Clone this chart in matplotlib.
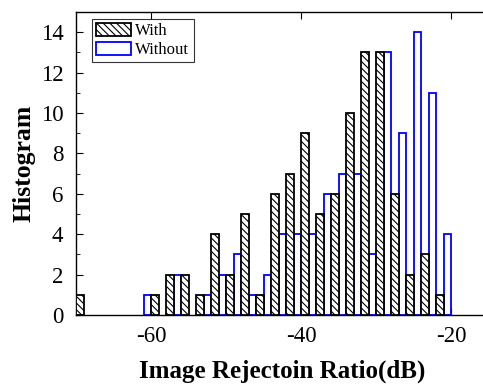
import numpy as np
import matplotlib
matplotlib.use("Agg")
import matplotlib.pyplot as plt
from matplotlib.ticker import MultipleLocator
from matplotlib.patches import Patch

plt.rcParams['font.family'] = ['Liberation Serif', 'DejaVu Serif']
plt.rcParams['hatch.linewidth'] = 0.8
plt.rcParams['axes.unicode_minus'] = False

# bin left edges (dB), bin width 2 dB
bin_edges = list(range(-70, -18, 2))
with_counts = [1, 0, 0, 0, 0, 1, 2, 2, 1, 4, 2, 5, 1, 6, 7, 9, 5, 6, 10, 13, 13, 6, 2, 3, 1]
without_counts = [0, 0, 0, 0, 1, 0, 2, 0, 1, 2, 3, 1, 2, 4, 4, 4, 6, 7, 7, 3, 13, 9, 14, 11, 4]
series_labels = ["With", "Without"]
xticks = [-60, -40, -20]
yticks = [0, 2, 4, 6, 8, 10, 12, 14]

fig = plt.figure(figsize=(4.83, 3.87), dpi=100)
ax = fig.add_axes([76/483, 1-315/387, (488.5-76)/483, (315-12)/387])

edges = np.array(bin_edges[:len(with_counts)], dtype=float)
b_wo = ax.bar(edges + 1, without_counts, width=1, align='edge', facecolor='white',
              edgecolor='#0000ff', linewidth=1.3, zorder=2)
b_w = ax.bar(edges, with_counts, width=1, align='edge', facecolor='white',
             edgecolor='black', hatch='\\\\\\\\\\', linewidth=1.3, zorder=3)
for p in list(b_wo) + list(b_w):
    if p.get_height() == 0:
        p.set_visible(False)

ax.set_xlim(-70, -15)
ax.set_ylim(0, 15)
ax.set_xticks(xticks)
ax.set_yticks(yticks)
ax.yaxis.set_minor_locator(MultipleLocator(1))
ax.tick_params(axis='both', which='both', direction='in', labelsize=16.5)
ax.tick_params(axis='x', top=True, length=5, pad=8)
ax.tick_params(axis='y', which='major', length=5, pad=9)
ax.tick_params(axis='y', which='minor', length=3)
for s in ax.spines.values():
    s.set_linewidth(1.0)

ax.set_xlabel("Image Rejectoin Ratio(dB)", fontsize=18, fontweight='bold', labelpad=9)
ax.set_ylabel("Histogram", fontsize=18.5, fontweight='bold', labelpad=4)

handles = [Patch(facecolor='white', edgecolor='black', hatch='\\\\\\\\\\', linewidth=1.3),
           Patch(facecolor='white', edgecolor='#0000ff', linewidth=1.3)]
leg = ax.legend(handles, series_labels, loc='upper left',
                bbox_to_anchor=((92-76)/412.5, (315-19)/303),
                fontsize=12, frameon=True, fancybox=False, edgecolor='black',
                handlelength=2.1, handleheight=0.8, borderpad=0.25, labelspacing=0.15,
                handletextpad=0.25, borderaxespad=0)
leg.get_frame().set_linewidth(0.8)

fig.savefig("out.png", dpi=100)
